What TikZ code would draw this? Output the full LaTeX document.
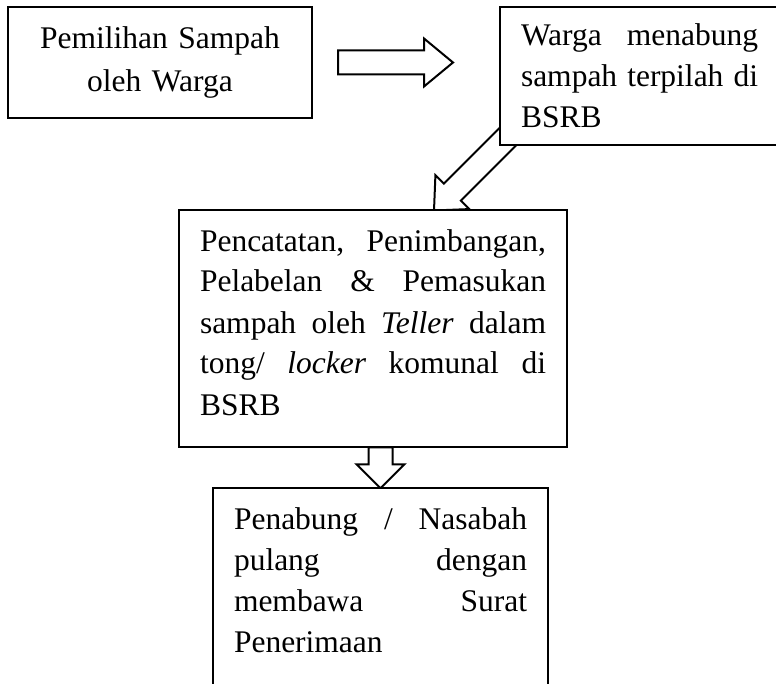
\documentclass[tikz,border=0pt]{standalone}
\usepackage{fontspec}
\setmainfont{Liberation Serif}
\usetikzlibrary{calc, backgrounds}

% block arrow: [head length]{from}{to}
\newcommand{\blockarrow}[3][14pt]{%
  \coordinate (bh) at ($(#3)!#1!(#2)$);
  \draw [blockarrow] ($(#2)!6pt!90:(#3)$) -- ($(bh)!6pt!90:(#3)$) -- ($(bh)!12pt!90:(#3)$) -- (#3)
    -- ($(bh)!12pt!-90:(#3)$) -- ($(bh)!6pt!-90:(#3)$) -- ($(#2)!6pt!-90:(#3)$) -- cycle;}

\begin{document}
\begin{tikzpicture}[x=0.5pt, y=-0.5pt]
% Define styles
\tikzstyle{box} = [rectangle, draw=black, line width=1pt, fill=white, inner sep=0pt, outer sep=0pt, anchor=north west, font={\fontsize{15.75pt}{20.5pt}\selectfont\tolerance=10000\hyphenpenalty=10000}]
\tikzstyle{blockarrow} = [draw=black, line width=1pt, fill=white, line join=miter]

\clip[use as bounding box] (0,0) rectangle (776,684);

% Steps
\node (pilah) [box, font={\fontsize{15.75pt}{21.7pt}\selectfont}, minimum width=152pt, text width=140pt, align=center, text height=20.65pt, text depth=34.85pt] at (8,7) {Pemilihan Sampah\\oleh Warga};
\node (tabung) [box, minimum width=139.5pt, text width=118.5pt, align=justify, text height=19.5pt, text depth=49.5pt] at (500,7) {Warga menabung\linebreak sampah terpilah di\linebreak BSRB};
\node (catat) [box, minimum width=194pt, text width=173pt, align=justify, text height=20.25pt, text depth=98.15pt] at (179,210.5) {Pencatatan, Penimbangan,\linebreak Pelabelan \& Pemasukan\linebreak sampah oleh \textit{Teller} dalam\linebreak tong/ \textit{locker} komunal di\linebreak BSRB};
\node (pulang) [box, minimum width=167.5pt, text width=146.5pt, align=justify, text height=20.35pt, text depth=95pt] at (213,488.3) {Penabung / Nasabah\linebreak pulang dengan\linebreak membawa Surat\linebreak Penerimaan};

% Arrow ends
\coordinate (a1) at ($(pilah.east)+(13pt,0)$);
\coordinate (a2) at ($(tabung.west |- pilah.east)+(-23.5pt,0)$);
\coordinate (b1) at ($(tabung.south west)+(15pt,15.25pt)$);
\coordinate (b2) at ($(catat.north)+(30.5pt,0)$);
\coordinate (c1) at (catat.south -| pulang.north);

% Flow arrows
\begin{scope}[on background layer]
\blockarrow[14.5pt]{a1}{a2}
\blockarrow[13pt]{b1}{b2}
\blockarrow[12pt]{c1}{pulang.north}
\end{scope}

\end{tikzpicture}
\end{document}
